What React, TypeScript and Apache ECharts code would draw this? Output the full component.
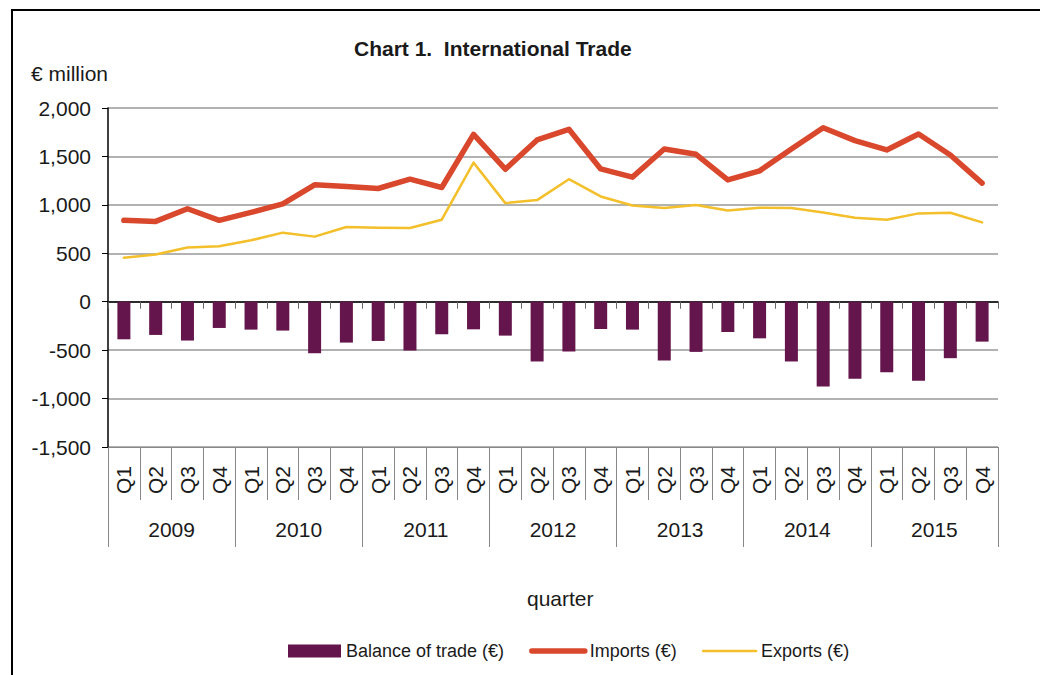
import React, { useEffect, useRef } from "react";
import * as echarts from "echarts";

const years = ["2009", "2010", "2011", "2012", "2013", "2014", "2015"];
const quarters = ["Q1", "Q2", "Q3", "Q4"];
const categories = years.flatMap((y) => quarters.map((q) => `${q} ${y}`));
const quarterLabels = years.flatMap(() => quarters);

const imports = [840, 829, 960, 840, 922, 1011, 1207, 1190, 1169, 1265, 1179, 1728, 1368, 1670, 1780, 1371, 1286, 1577, 1522, 1258, 1351, 1577, 1796, 1663, 1567, 1731, 1515, 1224];
const exportsV = [453, 487, 559, 572, 634, 713, 672, 772, 764, 761, 847, 1436, 1018, 1049, 1265, 1087, 994, 967, 998, 942, 970, 967, 922, 867, 847, 912, 919, 819];
const balance = [-388, -343, -401, -271, -288, -298, -532, -422, -405, -504, -336, -285, -350, -617, -514, -282, -288, -607, -518, -313, -378, -617, -875, -796, -727, -817, -583, -412];

const FONT = "'Liberation Sans', Arial, sans-serif";

export default function App() {
  const ref = useRef<HTMLDivElement>(null);
  useEffect(() => {
    if (!ref.current) return;
    const chart = echarts.init(ref.current, undefined, { renderer: "svg" });
    chart.setOption({
      animation: false,
      backgroundColor: "#ffffff",
      textStyle: { fontFamily: FONT },
      title: [
        {
          text: "Chart 1.  International Trade",
          left: 354,
          top: 38,
          padding: 0,
          textStyle: { fontFamily: FONT, fontSize: 21, fontWeight: "bold", color: "#1a1a1a" },
        },
        {
          text: "€ million",
          left: 31,
          top: 63,
          padding: 0,
          textStyle: { fontFamily: FONT, fontSize: 21, fontWeight: "normal", color: "#1a1a1a" },
        },
        {
          text: "quarter",
          left: 527,
          top: 588,
          padding: 0,
          textStyle: { fontFamily: FONT, fontSize: 21, fontWeight: "normal", color: "#1a1a1a" },
        },
      ],
      graphic: [
        {
          type: "rect",
          shape: { x: 12, y: 10, width: 1100, height: 700 },
          style: { fill: "none", stroke: "#000", lineWidth: 2 },
          silent: true,
        },
      ],
      legend: {
        left: 288,
        top: 642,
        itemWidth: 53,
        itemHeight: 13,
        itemGap: 25,
        padding: 0,
        textStyle: { fontFamily: FONT, fontSize: 18, color: "#1a1a1a" },
        data: [
          { name: "Balance of trade (€)", icon: "rect" },
          {
            name: "Imports (€)",
            itemStyle: { opacity: 0 },
            lineStyle: { width: 5.5, cap: "round", color: "#d9482c" },
          },
          {
            name: "Exports (€)",
            itemStyle: { opacity: 0 },
            lineStyle: { width: 2.5, color: "#f3bf2a" },
          },
        ],
      },
      grid: { left: 108, right: 42, top: 108, bottom: 228 },
      xAxis: [
        {
          type: "category",
          data: categories,
          position: "bottom",
          boundaryGap: true,
          axisLine: { onZero: true, lineStyle: { color: "#000", width: 1.5 } },
          axisTick: { show: true, length: 7, interval: 0, lineStyle: { color: "#666" } },
          axisLabel: { show: false },
          splitLine: { show: false },
        },
        {
          type: "category",
          data: quarterLabels,
          position: "bottom",
          offset: 0,
          boundaryGap: true,
          axisLine: { onZero: false, lineStyle: { color: "#888", width: 1 } },
          axisTick: { show: true, length: 53, interval: 0, lineStyle: { color: "#888" } },
          axisLabel: { interval: 0, rotate: 90, margin: 19, fontSize: 21, color: "#1a1a1a", fontFamily: FONT },
          splitLine: { show: false },
        },
        {
          type: "category",
          data: years,
          position: "bottom",
          offset: 0,
          boundaryGap: true,
          axisLine: { show: false, onZero: false },
          axisTick: { show: true, length: 100, interval: 0, lineStyle: { color: "#888" } },
          axisLabel: { interval: 0, margin: 72, fontSize: 21, color: "#1a1a1a", fontFamily: FONT },
          splitLine: { show: false },
        },
      ],
      yAxis: {
        type: "value",
        min: -1500,
        max: 2000,
        interval: 500,
        axisLine: { show: true, lineStyle: { color: "#000", width: 1.5 } },
        axisTick: { show: true, length: 6, lineStyle: { color: "#000" } },
        axisLabel: {
          margin: 17,
          fontSize: 21,
          color: "#1a1a1a",
          fontFamily: FONT,
          formatter: (v: number) => v.toLocaleString("en-US"),
        },
        splitLine: { show: true, lineStyle: { color: "#999", width: 1.5 } },
      },
      series: [
        {
          name: "Balance of trade (€)",
          type: "bar",
          xAxisIndex: 0,
          data: balance,
          barWidth: 13,
          itemStyle: { color: "#64154b" },
        },
        {
          name: "Imports (€)",
          type: "line",
          xAxisIndex: 0,
          data: imports,
          symbol: "none",
          lineStyle: { color: "#d9482c", width: 5.5, cap: "round", join: "round" },
          itemStyle: { color: "#d9482c" },
        },
        {
          name: "Exports (€)",
          type: "line",
          xAxisIndex: 0,
          data: exportsV,
          symbol: "none",
          lineStyle: { color: "#f3bf2a", width: 2.5, cap: "round", join: "round" },
          itemStyle: { color: "#f3bf2a" },
        },
      ],
    });
    return () => chart.dispose();
  }, []);
  return (
    <div
      ref={ref}
      style={{ position: "absolute", left: 0, top: 0, width: 1040, height: 675 }}
    />
  );
}
